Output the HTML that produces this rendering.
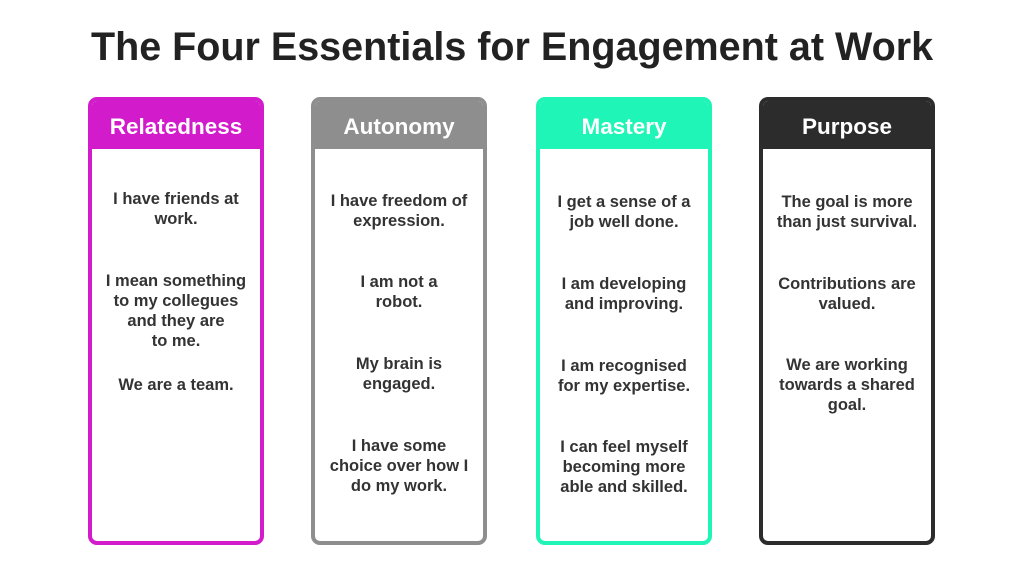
<!DOCTYPE html><html><head><style>
body{margin:0;width:1024px;height:576px;background:#fff;position:relative;font-family:"Liberation Sans",Arial,sans-serif;overflow:hidden}
h1{position:absolute;top:23px;left:0;width:1024px;margin:0;text-align:center;font-size:39.5px;line-height:48px;font-weight:bold;color:#222}
.c{position:absolute;top:97px;width:176px;height:448px;box-sizing:border-box;border:4px solid;border-radius:9px;overflow:hidden}
.h{height:49px;color:#fff;font-weight:bold;font-size:22.5px;text-align:center;line-height:54px;margin:-1px}
.t{position:absolute;left:0;width:168px;text-align:center;font-weight:bold;font-size:16.5px;line-height:20px;color:#333}
</style></head><body>
<h1>The Four Essentials for Engagement at Work</h1>
<div class="c" style="left:88px;border-color:#d21bca"><div class="h" style="background:#d21bca">Relatedness</div>
<div class="t" style="top:88px">I have friends at<br>work.</div>
<div class="t" style="top:170px">I mean something<br>to my collegues<br>and they are<br>to me.</div>
<div class="t" style="top:274px">We are a team.</div></div>
<div class="c" style="left:311px;border-color:#8e8e8e"><div class="h" style="background:#8e8e8e">Autonomy</div>
<div class="t" style="top:90px">I have freedom of<br>expression.</div>
<div class="t" style="top:171px">I am not a<br>robot.</div>
<div class="t" style="top:253px">My brain is<br>engaged.</div>
<div class="t" style="top:335px">I have some<br>choice over how I<br>do my work.</div></div>
<div class="c" style="left:536px;border-color:#1ef5b6"><div class="h" style="background:#1ef5b6">Mastery</div>
<div class="t" style="top:91px">I get a sense of a<br>job well done.</div>
<div class="t" style="top:173px">I am developing<br>and improving.</div>
<div class="t" style="top:255px">I am recognised<br>for my expertise.</div>
<div class="t" style="top:336px">I can feel myself<br>becoming more<br>able and skilled.</div></div>
<div class="c" style="left:759px;border-color:#2c2c2c"><div class="h" style="background:#2c2c2c">Purpose</div>
<div class="t" style="top:91px">The goal is more<br>than just survival.</div>
<div class="t" style="top:173px">Contributions are<br>valued.</div>
<div class="t" style="top:254px">We are working<br>towards a shared<br>goal.</div></div>
</body></html>
